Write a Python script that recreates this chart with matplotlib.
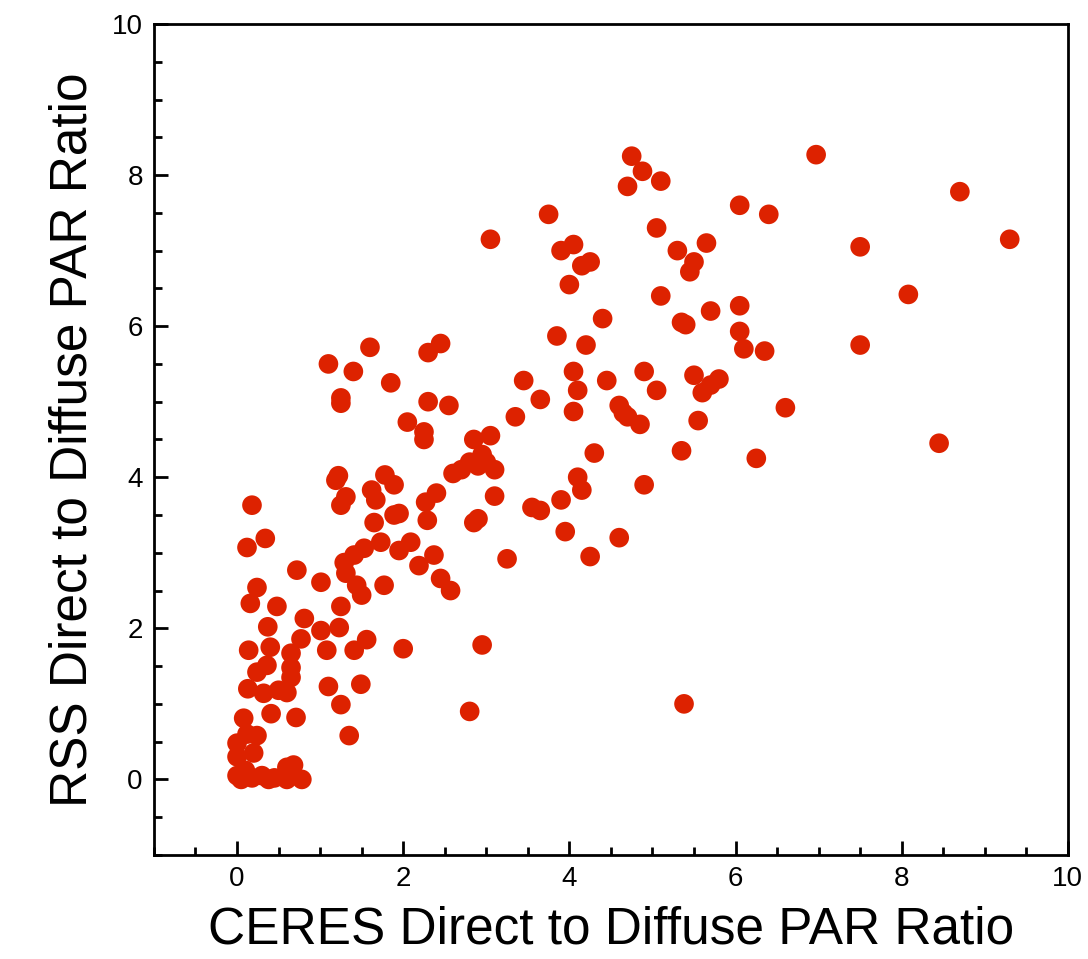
import numpy as np
import matplotlib.pyplot as plt
from matplotlib.ticker import MultipleLocator

plt.rcParams['font.family'] = ['Liberation Sans', 'DejaVu Sans']

ceres = [0.18, 0.12, 0.34, 0.72, 1.01, 0.24, 0.16, 0.48, 0.81, 1.25, 0.37, 0.14, 0.40, 0.77,
         1.01, 1.23, 1.08, 1.41, 1.56, 2.0, 0.65, 0.65, 0.65, 0.36, 0.24, 0.13, 0.32, 0.6,
         0.5, 0.41, 0.08, 0.71, 1.1, 1.49, 1.25, 1.35, 0.0, 0.24, 0.12, 0.0, 0.2, 0.0,
         0.18, 0.38, 0.6, 0.68, 0.78, 0.6, 0.1, 0.3, 0.05, 0.45,
         1.31, 1.25, 1.62, 1.67, 1.89, 2.4, 2.27, 2.29, 1.65, 1.89, 1.95, 2.09, 1.95, 2.37,
         2.19, 2.45, 2.57, 1.73, 1.53, 1.41, 1.29, 1.31, 1.44, 1.5, 1.77, 1.19,
         1.1, 1.25, 1.25, 1.4, 1.6, 1.85, 1.22, 2.05, 2.25, 2.25, 2.3, 2.45, 2.3, 2.55,
         1.78, 2.6, 2.7, 2.8, 2.85, 2.95, 3.0, 2.9, 3.05, 3.1, 2.9, 2.85, 3.1,
         2.95, 2.8, 3.05, 3.25,
         3.35, 3.45, 3.65, 3.75, 3.85, 3.9, 3.55, 3.65, 3.9, 4.0, 4.05, 4.15, 4.25, 4.05,
         4.2, 4.1, 4.05, 4.1, 4.15, 4.3, 3.95, 4.25, 4.4, 4.45, 4.6, 4.65, 4.7, 4.85, 4.9,
         4.9, 4.6, 4.7, 4.75, 4.88, 5.1, 5.05, 5.1, 5.05, 5.3, 5.35, 5.4, 5.45, 5.5, 5.65,
         5.5, 5.55, 5.35, 5.6, 5.7, 5.8, 5.7, 5.38, 6.05, 6.05, 6.05, 6.1, 6.4, 6.35, 6.25,
         6.6, 6.97, 7.5, 7.5, 8.08, 8.45, 8.7, 9.3]
rss = [3.63, 3.07, 3.19, 2.77, 2.61, 2.54, 2.33, 2.29, 2.13, 2.29, 2.02, 1.71, 1.75, 1.86,
       1.97, 2.01, 1.71, 1.71, 1.85, 1.73, 1.67, 1.48, 1.35, 1.51, 1.42, 1.2, 1.14, 1.15,
       1.18, 0.87, 0.81, 0.82, 1.23, 1.26, 0.99, 0.58, 0.48, 0.58, 0.6, 0.3, 0.35, 0.05,
       0.02, 0.0, 0.16, 0.19, 0.0, 0.0, 0.12, 0.05, 0.0, 0.02,
       3.74, 3.63, 3.83, 3.7, 3.9, 3.79, 3.67, 3.43, 3.4, 3.5, 3.52, 3.14, 3.03, 2.97,
       2.83, 2.66, 2.5, 3.14, 3.06, 2.97, 2.87, 2.73, 2.57, 2.44, 2.57, 3.96,
       5.5, 5.05, 4.98, 5.4, 5.72, 5.25, 4.02, 4.73, 4.6, 4.5, 5.65, 5.77, 5.0, 4.95,
       4.03, 4.05, 4.1, 4.2, 4.5, 4.3, 4.2, 4.15, 4.55, 4.1, 3.45, 3.4, 3.75,
       1.78, 0.9, 7.15, 2.92,
       4.8, 5.28, 5.03, 7.48, 5.87, 7.0, 3.6, 3.56, 3.7, 6.55, 7.08, 6.8, 6.85, 5.4,
       5.75, 5.15, 4.87, 4.0, 3.83, 4.32, 3.28, 2.95, 6.1, 5.28, 4.95, 4.85, 4.8, 4.7, 5.4,
       3.9, 3.2, 7.85, 8.25, 8.05, 7.92, 7.3, 6.4, 5.15, 7.0, 6.05, 6.02, 6.72, 6.85, 7.1,
       5.35, 4.75, 4.35, 5.12, 5.22, 5.3, 6.2, 1.0, 7.6, 6.27, 5.93, 5.7, 7.48, 5.67, 4.25,
       4.92, 8.27, 7.05, 5.75, 6.42, 4.45, 7.78, 7.15]

fig = plt.figure(figsize=(10.88, 9.59), dpi=100)
ax = fig.add_axes([0.1415, 0.1085, 0.84, 0.8665])
ax.scatter(ceres, rss, s=200, color='#dd2200', edgecolors='none')
ax.set_xlim(-1, 10)
ax.set_ylim(-1, 10)
ax.xaxis.set_major_locator(MultipleLocator(2))
ax.xaxis.set_minor_locator(MultipleLocator(0.5))
ax.yaxis.set_major_locator(MultipleLocator(2))
ax.yaxis.set_minor_locator(MultipleLocator(0.5))
ax.tick_params(which='both', direction='in', width=2, labelsize=20, top=False, right=False)
ax.tick_params(which='major', length=10, pad=8)
ax.tick_params(which='minor', length=6)
for sp in ax.spines.values():
    sp.set_linewidth(2)
ax.set_xlabel('CERES Direct to Diffuse PAR Ratio', fontsize=37, labelpad=10)
ax.set_ylabel('RSS Direct to Diffuse PAR Ratio', fontsize=37, labelpad=10)
fig.savefig('out.png', dpi=100)
